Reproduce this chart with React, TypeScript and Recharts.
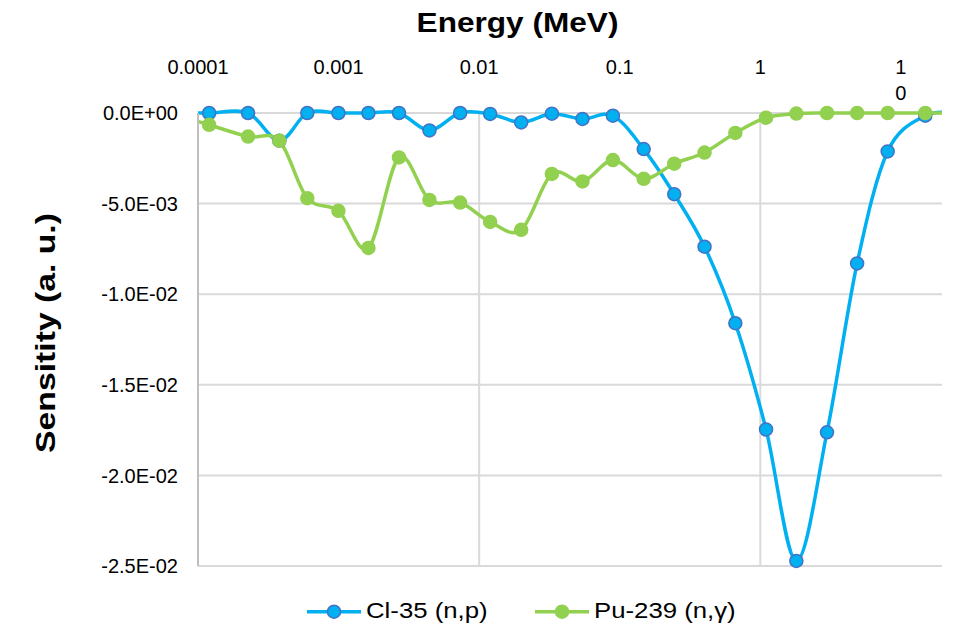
import React from "react";
import { LineChart, Line, XAxis, YAxis, CartesianGrid, ReferenceLine } from "recharts";

// group energies (MeV); first and last sit just outside the axis range and get clipped
const energy = [
  7e-5, 1.2e-4, 2.27e-4, 3.79e-4, 5.99e-4, 9.97e-4, 1.63e-3, 2.69e-3, 4.43e-3, 7.32e-3,
  1.197e-2, 1.99e-2, 3.29e-2, 5.43e-2, 8.94e-2, 0.148, 0.244, 0.401, 0.664, 1.098,
  1.804, 2.98, 4.88, 8.05, 14.9, 25,
];

const cl35 = [
  0, 0, 0, -0.00153, 0, 0, 0, 0, -0.00096, 0,
  -0.00005, -0.00052, -0.00004, -0.00033, -0.00015, -0.00199, -0.00448, -0.00738, -0.0116, -0.01746,
  -0.02472, -0.01762, -0.0083, -0.00212, -0.00015, 0,
];

const pu239 = [
  -0.0001, -0.00065, -0.0013, -0.00153, -0.0047, -0.0054, -0.00745, -0.00245, -0.0048, -0.00494,
  -0.00601, -0.00645, -0.00336, -0.00378, -0.0026, -0.00363, -0.0028, -0.00218, -0.0011, -0.00026,
  -0.00003, 0, 0, 0, 0, 0,
];

const xTicks = [0.0001, 0.001, 0.01, 0.1, 1, 10];
const xTickLabels = ["0.0001", "0.001", "0.01", "0.1", "1", "10"];
const xGridAt = [0.01, 1];
const yTicks = [0, -0.005, -0.01, -0.015, -0.02, -0.025];

const data = energy.map((e, i) => ({ e, cl: cl35[i], pu: pu239[i] }));

const series = [
  { key: "cl", name: "Cl-35 (n,p)", color: "#00b0f0", edge: "#4472c4" },
  { key: "pu", name: "Pu-239 (n,γ)", color: "#92d050", edge: "#92d050" },
];

const FONT = "'Liberation Sans', Arial, sans-serif";

// Excel-style smoothed line (Catmull-Rom through the points)
const smooth = (ctx: any) => {
  let pts: number[][] = [];
  return {
    areaStart() {},
    areaEnd() {},
    lineStart() {
      pts = [];
    },
    point(x: number, y: number) {
      pts.push([+x, +y]);
    },
    lineEnd() {
      const n = pts.length;
      if (!n) return;
      ctx.moveTo(pts[0][0], pts[0][1]);
      for (let i = 0; i < n - 1; i++) {
        const p0 = pts[Math.max(0, i - 1)];
        const p1 = pts[i];
        const p2 = pts[i + 1];
        const p3 = pts[Math.min(n - 1, i + 2)];
        ctx.bezierCurveTo(
          p1[0] + (p2[0] - p0[0]) / 6,
          p1[1] + (p2[1] - p0[1]) / 6,
          p2[0] - (p3[0] - p1[0]) / 6,
          p2[1] - (p3[1] - p1[1]) / 6,
          p2[0],
          p2[1]
        );
      }
    },
  };
};

function sci(v: number) {
  const [m, e] = v.toExponential(1).split("e");
  const n = Number(e);
  return `${m}E${n < 0 ? "-" : "+"}${String(Math.abs(n)).padStart(2, "0")}`;
}

function EnergyTick({ x, y, payload }: any) {
  const label = xTickLabels[xTicks.indexOf(payload.value)] ?? String(payload.value);
  // the last label is too wide for its slot and wraps one character per line
  const lines = payload.value >= 10 ? label.split("") : [label];
  return (
    <text x={x} y={y - 39} textAnchor="middle" fontSize={20} fill="#000" fontFamily={FONT}>
      {lines.map((s, i) => (
        <tspan key={i} x={x} dy={i ? 26 : 0}>
          {s}
        </tspan>
      ))}
    </text>
  );
}

const legendX = [307, 535];

export default function App() {
  return (
    <div style={{ position: "absolute", left: 0, top: 0, width: 954, height: 629, background: "#fff" }}>
      <LineChart width={954} height={629} data={data} margin={{ top: 0, right: 12, left: 0, bottom: 63 }}>
        <CartesianGrid vertical={false} stroke="#d9d9d9" strokeWidth={2} />
        {xGridAt.map((v) => (
          <ReferenceLine key={v} x={v} stroke="#d9d9d9" strokeWidth={2} />
        ))}
        <XAxis
          dataKey="e"
          type="number"
          scale="log"
          domain={[0.0001, 19.6]}
          allowDataOverflow
          ticks={xTicks}
          orientation="top"
          height={113}
          axisLine={false}
          tickLine={false}
          tickSize={0}
          tickMargin={0}
          tick={<EnergyTick />}
          interval={0}
        />
        <YAxis
          type="number"
          domain={[-0.025, 0]}
          ticks={yTicks}
          width={198}
          tickFormatter={sci}
          tickLine={false}
          tickSize={0}
          tickMargin={20}
          axisLine={{ stroke: "#bfbfbf", strokeWidth: 2 }}
          tick={{ fontSize: 20, fill: "#000", fontFamily: FONT }}
          interval={0}
        />
        {series.map((s) => (
          <Line
            key={s.key}
            dataKey={s.key}
            name={s.name}
            type={smooth as any}
            stroke={s.color}
            strokeWidth={3.5}
            dot={{ r: 6.5, fill: s.color, stroke: s.edge, strokeWidth: 1.5 }}
            isAnimationActive={false}
          />
        ))}
      </LineChart>
      <svg
        width={954}
        height={629}
        style={{ position: "absolute", left: 0, top: 0, pointerEvents: "none" }}
        fontFamily={FONT}
      >
        <text
          transform="translate(517.5,31.7) scale(1.17,1)"
          textAnchor="middle"
          fontSize={27}
          fontWeight="bold"
          fill="#000"
        >
          Energy (MeV)
        </text>
        <text
          transform="translate(55,333) rotate(-90) scale(1.25,1)"
          textAnchor="middle"
          fontSize={27}
          fontWeight="bold"
          fill="#000"
        >
          Sensitity (a. u.)
        </text>
        {series.map((s, i) => (
          <g key={s.key}>
            <line x1={legendX[i]} x2={legendX[i] + 54} y1={611.7} y2={611.7} stroke={s.color} strokeWidth={3.5} />
            <circle cx={legendX[i] + 27} cy={611.7} r={6.5} fill={s.color} stroke={s.edge} strokeWidth={1.5} />
            <text transform={`translate(${legendX[i] + 59},618.3) scale(1.12,1)`} fontSize={23} fill="#000">
              {s.name}
            </text>
          </g>
        ))}
      </svg>
    </div>
  );
}
